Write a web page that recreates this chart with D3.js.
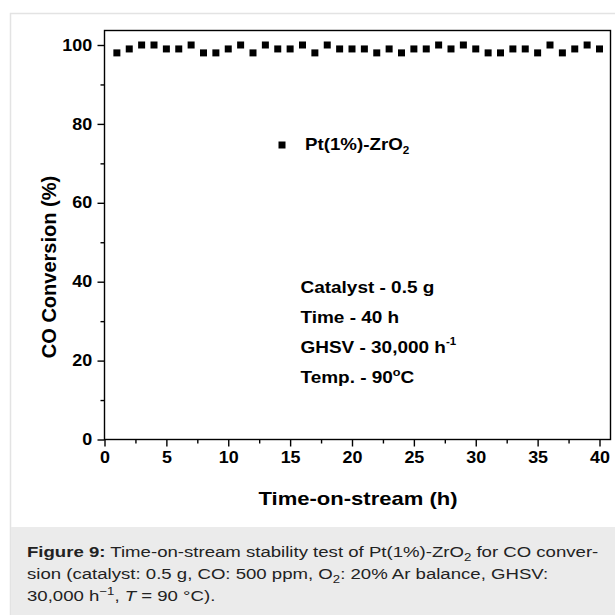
<!DOCTYPE html>
<html>
<head>
<meta charset="utf-8">
<script src="https://cdn.jsdelivr.net/npm/d3@7"></script>
<style>
  body { margin: 0; background: #fff; }
  svg { display: block; font-family: "Liberation Sans", Arial, sans-serif; }
  .axis path, .axis line { stroke: #000; stroke-width: 1.4px; }
  .axis text { font-weight: bold; font-size: 16px; fill: #000; }
</style>
</head>
<body>
<svg width="615" height="615"></svg>
<script>
// time on stream (h)
const hours = d3.range(1, 41);
// CO conversion (%) for Pt(1%)-ZrO2
const conversion = [
  98, 99, 100, 100, 99, 99, 100, 98, 98, 99,
  100, 98, 100, 99, 99, 100, 98, 100, 99, 99,
  99, 98, 99, 98, 99, 99, 100, 99, 100, 99,
  98, 98, 99, 99, 98, 100, 98, 99, 100, 99
];
const xTicks = [0, 5, 10, 15, 20, 25, 30, 35, 40];
const yTicks = [0, 20, 40, 60, 80, 100];
const conditions = ['Catalyst - 0.5 g', 'Time - 40 h', 'GHSV - 30,000 h', 'Temp. - 90'];

const data = hours.map((h, i) => ({ h: h, v: conversion[i] }));

const svg = d3.select('svg');

// the source picture is a bit wider than tall, so text gets stretched sideways
const wide = 1.17;
function label(parent, px, py, sx) {
  return parent.append('text').attr('transform', `translate(${px},${py}) scale(${sx},1)`);
}

// figure panel + caption box
svg.append('rect').attr('x', 10.5).attr('y', 13.5).attr('width', 620).attr('height', 620)
  .attr('fill', '#fff').attr('stroke', '#e3e3e3').attr('stroke-width', 1.5);
svg.append('rect').attr('x', 11).attr('y', 527).attr('width', 610).attr('height', 100)
  .attr('fill', '#ebebeb');

const x = d3.scaleLinear().domain([0, 40]).range([104.5, 599.5]);
const y = d3.scaleLinear().domain([0, 100]).range([439.5, 45]);

const fLeft = 104.5, fRight = 610.5, fTop = 30.5, fBottom = 439.5;

// minor ticks
svg.append('g').attr('class', 'axis').attr('transform', `translate(0,${fBottom})`)
  .call(d3.axisBottom(x).tickValues(d3.range(2.5, 40, 5)).tickSize(4).tickFormat(''))
  .call(g => g.select('.domain').remove());
svg.append('g').attr('class', 'axis').attr('transform', `translate(${fLeft},0)`)
  .call(d3.axisLeft(y).tickValues(d3.range(10, 100, 20)).tickSize(4).tickFormat(''))
  .call(g => g.select('.domain').remove());

// major ticks
svg.append('g').attr('class', 'axis').attr('transform', `translate(0,${fBottom})`)
  .call(d3.axisBottom(x).tickValues(xTicks).tickSize(7).tickPadding(5))
  .call(g => g.select('.domain').remove())
  .selectAll('text').attr('font-size', 16).attr('transform', 'scale(1.12,1)');
svg.append('g').attr('class', 'axis').attr('transform', `translate(${fLeft},0)`)
  .call(d3.axisLeft(y).tickValues(yTicks).tickSize(7).tickPadding(4))
  .call(g => g.select('.domain').remove())
  .selectAll('text').attr('font-size', 17).attr('transform', 'scale(1.12,1)');

// frame
svg.append('rect').attr('x', fLeft).attr('y', fTop)
  .attr('width', fRight - fLeft).attr('height', fBottom - fTop)
  .attr('fill', 'none').attr('stroke', '#000').attr('stroke-width', 1.4);

// markers
svg.append('g').selectAll('rect').data(data).enter().append('rect')
  .attr('x', d => x(d.h) - 3.5).attr('y', d => y(d.v) - 3.5)
  .attr('width', 7).attr('height', 7).attr('fill', '#000');

// axis titles
label(svg, 358, 505, 1.16).attr('text-anchor', 'middle')
  .attr('font-weight', 'bold').attr('font-size', 19).text('Time-on-stream (h)');
svg.append('text').attr('transform', 'translate(56,267) rotate(-90)').attr('text-anchor', 'middle')
  .attr('font-weight', 'bold').attr('font-size', 20).text('CO Conversion (%)');

// legend
svg.append('rect').attr('x', 278.5).attr('y', 141.5).attr('width', 7).attr('height', 7).attr('fill', '#000');
const leg = label(svg, 305, 150, wide).attr('font-weight', 'bold').attr('font-size', 16);
leg.append('tspan').text('Pt(1%)-ZrO');
leg.append('tspan').attr('font-size', 10).attr('dy', 4).text('2');

// conditions
const cond = svg.append('g').attr('font-weight', 'bold').attr('font-size', 16.5);
conditions.forEach((c, i) => {
  const t = label(cond, 300.5, 293 + i * 30, 1.15).text(c);
  if (i === 2) t.append('tspan').attr('font-size', 10).attr('dy', -8).text('-1');
  if (i === 3) {
    t.append('tspan').attr('font-size', 11).attr('dy', -7).text('o');
    t.append('tspan').attr('dy', 7).text('C');
  }
});

// caption
const cap = svg.append('g').attr('font-size', 15.5).attr('fill', '#222');
const l1 = label(cap, 27, 557, 1.2);
l1.append('tspan').attr('font-weight', 'bold').text('Figure 9:');
l1.append('tspan').text(' Time-on-stream stability test of Pt(1%)-ZrO');
l1.append('tspan').attr('font-size', 11).attr('dy', 4).text('2');
l1.append('tspan').attr('dy', -4).text(' for CO conver-');
const l2 = label(cap, 27, 579, 1.2);
l2.append('tspan').text('sion (catalyst: 0.5 g, CO: 500 ppm, O');
l2.append('tspan').attr('font-size', 11).attr('dy', 4).text('2');
l2.append('tspan').attr('dy', -4).text(': 20% Ar balance, GHSV:');
const l3 = label(cap, 27, 601, 1.2);
l3.append('tspan').text('30,000 h');
l3.append('tspan').attr('font-size', 11).attr('dy', -6).text('\u22121');
l3.append('tspan').attr('dy', 6).text(', ');
l3.append('tspan').attr('font-style', 'italic').text('T');
l3.append('tspan').text(' = 90 \u00b0C).');
</script>
</body>
</html>
